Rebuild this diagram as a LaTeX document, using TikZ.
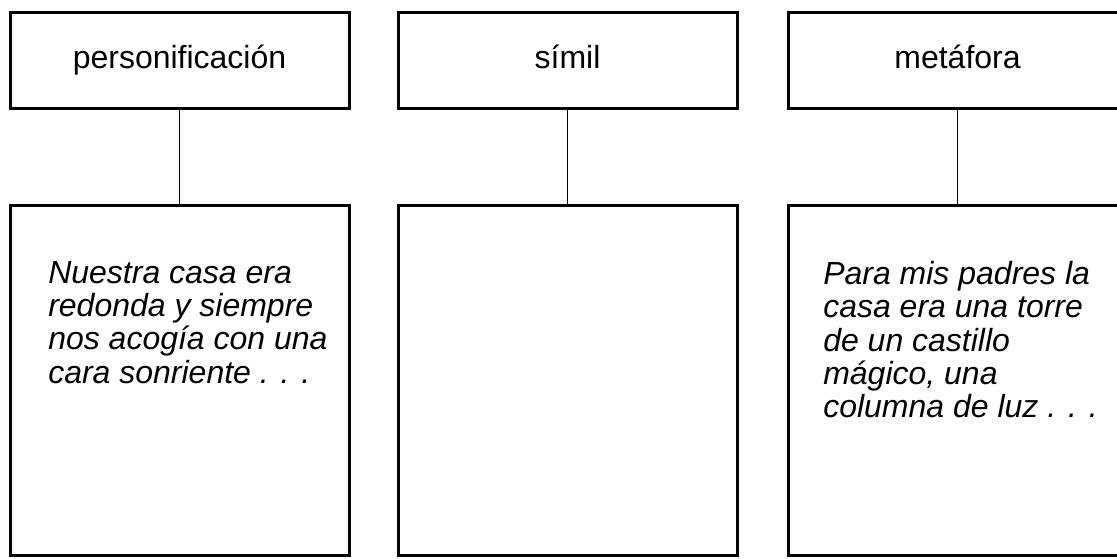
\documentclass[tikz,border=0pt]{standalone}
\usepackage{fontspec}
\setmainfont{Liberation Sans}
\usetikzlibrary{positioning}

\begin{document}
\begin{tikzpicture}[x=0.75pt,y=0.75pt,
  titlebox/.style={draw,black,line width=2.25pt,minimum width=254.25pt,minimum height=72pt,
    inner sep=0pt,text height=18pt,text depth=6pt,font=\fontsize{24}{28}\selectfont},
  examplebox/.style={draw,black,line width=2.25pt,minimum width=254.25pt,minimum height=262.5pt,inner sep=0pt},
  exampletext/.style={anchor=north west,inner sep=0pt,align=left,
    font=\fontsize{24}{25}\selectfont\itshape},
  link/.style={draw,black,line width=1pt}
]
\useasboundingbox (0,0) rectangle (1117,-558);
\clip (0,0) rectangle (1117,-558);

% titles
\node[titlebox] (pers) at (179.5,-60) {personificación};
\node[titlebox] (simil) at (567.5,-60) {símil};
\node[titlebox] (meta) at (957.5,-60) {metáfora};

% example boxes
\node[examplebox] (persex) at (179.5,-380) {};
\node[examplebox] (similex) at (567.5,-380) {};
\node[examplebox] (metaex) at (957.5,-380) {};

\draw[link] (pers.south) -- (persex.north);
\draw[link] (simil.south) -- (similex.north);
\draw[link] (meta.south) -- (metaex.north);

% texts
\node[exampletext] (perstext) at (48,-261) {Nuestra casa era\\redonda y siempre\\nos acogía con una\\cara sonriente . . .};
\node[exampletext] (metatext) at (823,-261) {Para mis padres la\\casa era una torre\\de un castillo\\mágico, una\\columna de luz . . .};
\end{tikzpicture}
\end{document}
